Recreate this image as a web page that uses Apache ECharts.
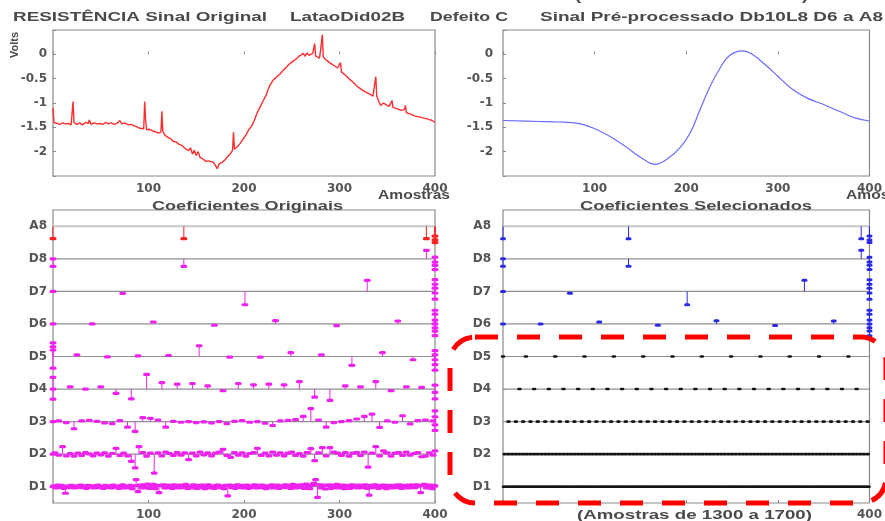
<!DOCTYPE html>
<html><head><meta charset="utf-8">
<script src="https://cdn.jsdelivr.net/npm/echarts@6/dist/echarts.min.js"></script>
<style>html,body{margin:0;padding:0;background:#fff}#c{width:885px;height:521px}</style>
</head><body><div id="c"></div>
<script>
// ---------- DATA ----------
const sampleTicks = [100, 200, 300, 400];
const levelNames = ['D1','D2','D3','D4','D5','D6','D7','D8','A8'];

// original signal (sample, volts)
const rawSignal = [
[0,-1.10],[1,-1.40],[4,-1.42],[7,-1.44],[10,-1.41],[13,-1.43],[16,-1.42],[19,-1.45],[21,-0.97],[22,-1.40],[25,-1.44],[28,-1.41],[31,-1.45],[34,-1.40],[37,-1.42],[38,-1.35],[40,-1.44],[43,-1.41],[46,-1.43],[49,-1.42],[52,-1.44],[55,-1.40],[58,-1.43],[61,-1.41],[64,-1.44],[67,-1.42],[70,-1.36],[72,-1.43],[75,-1.41],[77,-1.37],[79,-1.45],[82,-1.44],[85,-1.47],[88,-1.49],[91,-1.52],[93,-1.50],[95,-1.53],[96,-0.97],[97,-1.35],[98,-1.55],[101,-1.54],[104,-1.57],[107,-1.59],[110,-1.62],[113,-1.60],[114,-1.17],[115,-1.58],[117,-1.66],[120,-1.70],[123,-1.73],[126,-1.79],[129,-1.80],[132,-1.85],[135,-1.87],[138,-1.93],[140,-1.90],[142,-1.98],[144,-1.92],[146,-2.05],[148,-1.97],[150,-2.08],[152,-2.00],[154,-2.12],[157,-2.15],[160,-2.20],[163,-2.19],[165,-2.23],[168,-2.22],[170,-2.28],[172,-2.35],[174,-2.25],[177,-2.22],[180,-2.17],[183,-2.10],[186,-2.04],[188,-1.97],[189,-1.60],[190,-1.95],[193,-1.90],[196,-1.83],[199,-1.74],[202,-1.66],[205,-1.55],[208,-1.47],[211,-1.35],[213,-1.24],[215,-1.15],[217,-1.08],[219,-1.00],[221,-0.92],[223,-0.85],[225,-0.74],[227,-0.64],[229,-0.60],[231,-0.52],[233,-0.49],[235,-0.45],[238,-0.40],[241,-0.33],[244,-0.27],[247,-0.21],[250,-0.16],[253,-0.12],[256,-0.07],[259,-0.02],[262,0.02],[264,-0.04],[266,0.03],[268,-0.02],[270,-0.05],[272,0.02],[274,0.22],[275,-0.03],[277,-0.01],[279,-0.08],[280,0.05],[282,0.40],[283,-0.05],[285,-0.10],[287,-0.12],[289,-0.16],[292,-0.20],[295,-0.24],[298,-0.28],[300,-0.30],[301,-0.17],[302,-0.36],[305,-0.41],[308,-0.46],[311,-0.52],[314,-0.57],[317,-0.63],[320,-0.68],[323,-0.72],[326,-0.76],[329,-0.79],[332,-0.82],[335,-0.86],[337,-0.88],[338,-0.46],[339,-0.86],[341,-0.96],[343,-1.05],[346,-1.00],[349,-1.04],[352,-1.07],[355,-0.95],[356,-1.09],[359,-1.11],[362,-1.13],[365,-1.15],[368,-1.13],[369,-1.05],[370,-1.20],[373,-1.22],[376,-1.24],[379,-1.27],[382,-1.28],[385,-1.29],[388,-1.31],[391,-1.32],[394,-1.34],[397,-1.36],[400,-1.40]
];

// pre-processed signal
const filtSignal = [
[0,-1.36],[39,-1.38],[60,-1.39],[82,-1.42],[99,-1.52],[117,-1.69],[134,-1.90],[152,-2.14],[166,-2.26],[180,-2.14],[194,-1.90],[205,-1.59],[215,-1.14],[226,-0.66],[237,-0.28],[247,-0.03],[261,0.07],[272,0.00],[286,-0.21],[300,-0.45],[314,-0.69],[332,-0.90],[350,-1.03],[367,-1.17],[385,-1.31],[400,-1.37]
];

// detail coefficients (offset from level line, in level units)
const d1Vals = [
0.03,-0.04,0.05,-0.02,0.04,-0.05,-0.2,0.02,-0.03,0.04,0.01,-0.04,0.03,-0.02,0.05,-0.03,0.02,-0.05,0.04,-0.01,
0.03,-0.04,0.02,0.05,-0.03,0.01,-0.05,0.04,-0.02,0.03,-0.04,0.05,-0.01,0.02,-0.05,0.03,0.06,-0.04,0.02,-0.03,
0.04,-0.06,0.03,0.22,-0.15,0.05,-0.04,0.06,-0.03,0.08,-0.05,0.02,0.07,-0.06,0.04,-0.18,0.03,0.06,-0.04,0.05,
-0.03,0.04,-0.05,0.06,0.02,-0.04,0.05,-0.03,0.03,0.07,-0.05,0.02,-0.04,0.06,0.03,-0.05,0.04,-0.02,0.05,-0.06,
0.03,0.06,-0.04,0.02,-0.05,0.04,0.05,-0.03,0.02,-0.06,0.04,-0.28,0.05,-0.03,0.03,-0.05,0.06,-0.02,0.04,-0.04,
0.02,0.05,-0.05,0.03,-0.02,0.06,-0.04,0.04,-0.03,0.05,0.02,-0.06,0.03,-0.03,0.06,-0.04,0.02,0.05,-0.05,0.03,
-0.02,0.06,-0.03,0.04,-0.05,0.07,0.03,-0.04,0.05,-0.02,0.06,-0.05,0.08,0.03,-0.06,0.05,0.1,0.22,-0.33,0.06,
-0.04,0.05,-0.07,0.03,0.06,-0.05,0.04,-0.03,0.07,-0.04,0.02,0.05,-0.06,0.04,0.03,-0.05,0.06,-0.02,0.04,-0.04,
0.05,-0.03,0.03,0.06,-0.05,-0.26,0.04,-0.03,0.06,0.02,-0.05,0.04,-0.02,0.05,-0.06,0.03,0.04,-0.04,0.02,0.05,
-0.03,0.06,-0.05,0.03,0.04,-0.04,0.05,-0.03,0.05,-0.03,0.06,0.02,-0.18,0.04,0.07,-0.04,0.03,0.05,-0.06,0.04
];
const d2Vals = [
0.04,-0.03,0.23,-0.05,0.02,-0.06,0.03,-0.04,0.05,0.01,-0.05,0.03,-0.02,0.04,-0.06,0.02,0.18,-0.04,0.03,-0.05,
-0.22,-0.42,0.23,0.05,-0.06,0.03,-0.58,0.04,-0.05,0.06,0.02,-0.04,0.05,-0.03,0.04,-0.17,0.03,-0.05,0.06,-0.02,
0.04,-0.05,0.03,0.06,0.15,-0.04,-0.1,0.05,-0.03,0.04,-0.06,0.02,0.05,0.18,-0.04,0.03,-0.05,0.06,-0.03,0.04,
-0.05,0.03,0.06,-0.04,0.02,-0.06,0.05,0.17,-0.2,0.04,0.2,-0.05,0.2,0.06,0.03,-0.04,0.05,-0.06,0.03,0.05,
-0.04,0.06,-0.4,0.03,0.23,-0.05,0.1,0.04,-0.06,0.03,0.05,-0.04,0.06,-0.03,0.02,0.05,-0.08,-0.06,0.04,-0.03
];
const d3Vals = [
0.02,-0.03,-0.22,0.02,0.04,0.01,-0.04,-0.06,0.03,-0.17,
-0.3,0.12,0.1,0.05,-0.17,0.01,-0.02,0.0,-0.03,-0.01,
-0.04,0.0,-0.06,0.01,0.03,-0.02,0.0,-0.05,-0.12,0.02,
0.04,0.06,0.16,0.4,0.05,-0.17,-0.03,0.0,0.03,0.08,
0.16,0.23,-0.18,0.02,-0.02,0.18,-0.07,0.03,0.05,0.02
];
const d1Edge = [[0,0],[400,0.02]];
const d2Edge = [[0,0],[400,0.1]];
const d3Edge = [[0,0],[400,0.33],[400,0.15],[400,-0.1],[400,-0.27]];
const d4Coefs = [[0,0.36],[0,0],[0,-0.31],[18,0.07],[34,0],[50,0.07],[66,-0.13],[82,-0.3],[98,0.45],[114,0.2],[130,0.15],[146,0.17],[162,0.1],[178,-0.05],[194,0.17],[210,0.13],[226,0.15],[242,0.13],[258,0.23],[274,-0.25],[290,-0.35],[306,0.1],[322,0.07],[338,0.23],[354,-0.05],[370,0.07],[386,0.05],[400,0.12],[400,-0.1],[400,-0.3]];
const d5Coefs = [[0,0.2],[0,0.3],[0,0.42],[0,-0.36],[25,0.05],[57,-0.01],[89,0.02],[121,0.03],[153,0.33],[185,-0.02],[217,-0.02],[249,0.12],[281,0.05],[313,-0.27],[345,0.12],[377,-0.1],[400,0.18],[400,0.05],[400,-0.1],[400,-0.25],[400,-0.42]];
const d6Coefs = [[0,0],[41,0],[105,0.06],[169,-0.04],[233,0.1],[297,-0.05],[361,0.09],[400,0.42],[400,0.3],[400,0.12],[400,0],[400,-0.12],[400,-0.22],[400,-0.36]];
const d7Coefs = [[0,0],[73,-0.06],[201,-0.41],[329,0.34],[400,0.36],[400,0.22],[400,0.1],[400,-0.05],[400,-0.24]];
const d8Coefs = [[0,0],[0,-0.23],[137,-0.23],[391,0.26],[400,0.05],[400,-0.1],[400,-0.2],[400,-0.33]];
const a8Coefs = [[0,-0.38],[137,-0.38],[391,-0.38],[400,-0.3],[400,-0.42],[400,-0.5]];

// ---------- BUILD ----------
const d1Pts = d1Vals.map((v,k)=>[1+2*k, v]);
const d2Pts = d2Vals.map((v,k)=>[2+4*k, v]);
const d3Pts = d3Vals.map((v,k)=>[6+8*k, v]);
const detailLevels = [d1Pts.concat(d1Edge), d2Pts.concat(d2Edge), d3Pts.concat(d3Edge), d4Coefs, d5Coefs, d6Coefs, d7Coefs, d8Coefs, a8Coefs];
// regular positions for zeroed (not selected) coefficients in right panel
const zeroLevels = [d1Pts, d2Pts, d3Pts, d4Coefs.filter(p=>p[0]>0&&p[0]<400), d5Coefs.filter(p=>p[0]>0&&p[0]<400).concat([[0,0]])].map(a=>a.map(p=>[p[0],0]));

const MAG='#ee22ee', RED='#ff2020', BLUE='#2a2ae6', BLK='#151515';
const FONT='"DejaVu Sans", sans-serif';

function stemSeries(g, level, pts, color, w, h){
  return {
    type:'custom', xAxisIndex:g, yAxisIndex:g, silent:true, clip:false, z:5,
    data: pts.map(p=>[p[0], level, p[1]]),
    renderItem:(params, api)=>{
      const x=api.value(0), lv=api.value(1), off=api.value(2);
      const b=api.coord([x,lv]), t=api.coord([x,lv+off]);
      const ch=[];
      if(Math.abs(off)>0.08) ch.push({type:'line',shape:{x1:b[0],y1:b[1],x2:t[0],y2:t[1]},style:{stroke:color,lineWidth:1}});
      ch.push({type:'rect',shape:{x:t[0]-w/2,y:t[1]-h/2,width:w,height:h,r:h/2},style:{fill:color}});
      return {type:'group',children:ch};
    }
  };
}
function levelLines(g){
  return {
    type:'custom', xAxisIndex:g, yAxisIndex:g, silent:true, z:1,
    data: levelNames.map((n,i)=>[0,i+1]),
    renderItem:(params, api)=>{
      const lv=api.value(1);
      const a=api.coord([0,lv]), b=api.coord([400,lv]);
      return {type:'line',shape:{x1:a[0],y1:a[1],x2:b[0],y2:b[1]},style:{stroke: lv===9?'#c8c8c8':'#909090', lineWidth: lv===9?2:1.2}};
    }
  };
}

const grids=[
  {left:53, top:30, width:382, height:146},
  {left:503, top:30, width:378, height:146},
  {left:53, top:210, width:382, height:294},
  {left:503, top:210, width:378, height:294}
].map(g=>Object.assign({show:true, borderColor:'#8a8a8a', borderWidth:1.2, backgroundColor:'#fff'}, g));

const lbl = {fontFamily:FONT, fontWeight:'bold', fontSize:12, color:'#555'};
function xAx(g, fmt){
  return {type:'value', gridIndex:g, min:0, max:400, interval:100,
    axisLine:{show:false}, splitLine:{show:false},
    axisTick:{show:true, inside:true, length:3, lineStyle:{color:'#8a8a8a'}},
    axisLabel:Object.assign({margin:g<2?7:6, formatter:fmt}, lbl)};
}
const xFmt = v => sampleTicks.includes(v) ? String(v) : '';
const xFmtR = v => v===400 ? '400' : '';
function yAxTop(g){
  return {type:'value', gridIndex:g, min:-2.5, max:0.5, interval:0.5,
    axisLine:{show:false}, splitLine:{show:false},
    axisTick:{show:true, inside:true, length:3, lineStyle:{color:'#8a8a8a'}},
    axisLabel:Object.assign({margin:g===0?6:10, formatter:v=>(v<-2.4||v>0.4)?'':String(v)}, lbl)};
}
function yAxLev(g){
  const cv=levelNames.map((n,i)=>i+1);
  return {type:'value', gridIndex:g, min:0.5, max:9.5,
    axisLine:{show:false}, splitLine:{show:false},
    axisTick:{show:true, inside:true, length:3, customValues:cv, lineStyle:{color:'#8a8a8a'}},
    axisLabel:Object.assign({margin:g===2?6:12, customValues:cv, formatter:v=>levelNames[Math.round(v)-1]||''}, lbl)};
}

// text helper: stretch text horizontally to span [x1,x2]
const mctx=document.createElement('canvas').getContext('2d');
function fitText(str, x1, x2, yc, font, color){
  mctx.font=font; const w=mctx.measureText(str).width;
  return {type:'text', x:x1, y:yc, scaleX:(x2-x1)/w, z:50,
    style:{text:str, font:font, fill:color, textAlign:'left', textVerticalAlign:'middle', verticalAlign:'middle'}};
}
const TF='bold 12px "Liberation Sans", Arial, sans-serif', TC='#4a4a4a';

const series=[
  {type:'line', xAxisIndex:0, yAxisIndex:0, data:rawSignal, showSymbol:false, silent:true, lineStyle:{color:'#ff2e2e', width:1.4}},
  {type:'line', xAxisIndex:1, yAxisIndex:1, data:filtSignal, showSymbol:false, silent:true, smooth:0.4, lineStyle:{color:'#6b6bff', width:1.2}},
  levelLines(2), levelLines(3)
];
detailLevels.forEach((pts,i)=>{
  series.push(stemSeries(2, i+1, pts, i===8?RED:MAG, 7, 3.2));
});
zeroLevels.forEach((pts,i)=>{
  series.push(stemSeries(3, i+1, pts, BLK, 4.5, 2.6));
});
[5,6,7,8].forEach(i=>{
  series.push(stemSeries(3, i+1, detailLevels[i], BLUE, 6, 3));
});

const option={
  animation:false,
  backgroundColor:'#fff',
  grid:grids,
  xAxis:[xAx(0,xFmt), xAx(1,xFmt), xAx(2,xFmt), xAx(3,xFmtR)],
  yAxis:[yAxTop(0), yAxTop(1), yAxLev(2), yAxLev(3)],
  series:series,
  graphic:[
    fitText('(Amostras de 1300 a 1700)', 575, 808, -3, TF, TC),
    fitText('RESISTÊNCIA Sinal Original', 13, 267, 18, TF, TC),
    fitText('LataoDid02B', 290, 405, 18, TF, TC),
    fitText('Defeito C', 430, 508, 18, TF, TC),
    fitText('Sinal Pré-processado Db10L8 D6 a A8', 540, 883, 18, TF, TC),
    fitText('Amostras', 378, 450, 196, TF, TC),
    fitText('Amostras', 846, 918, 196, TF, TC),
    fitText('Coeficientes Originais', 152, 343, 207, TF, TC),
    fitText('Coeficientes Selecionados', 580, 812, 207, TF, TC),
    fitText('(Amostras de 1300 a 1700)', 577, 812, 516, TF, TC),
    {type:'text', x:15, y:45, rotation:Math.PI/2, z:50,
      style:{text:'Volts', font:'bold 11px "Liberation Sans", Arial, sans-serif', fill:TC, textAlign:'center', textVerticalAlign:'middle', verticalAlign:'middle'}},
    {type:'rect', z:60, shape:{x:874, y:474, width:12, height:24}, style:{fill:'#fff'}},
    {type:'rect', z:70, shape:{x:450, y:337, width:436, height:166, r:25},
      style:{fill:'none', stroke:'#ff0000', lineWidth:5, lineDash:[23,19]}}
  ]
};
const chart=echarts.init(document.getElementById('c'), null, {renderer:'canvas'});
chart.setOption(option);
</script></body></html>
